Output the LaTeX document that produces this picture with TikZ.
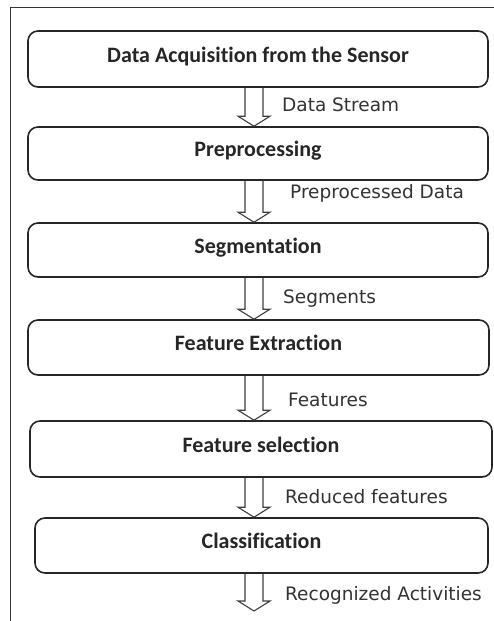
\documentclass[tikz,border=0pt]{standalone}
\usepackage{fontspec}
\setmainfont{DejaVu Sans}
\newfontfamily\titlefont[Ligatures=NoCommon]{Carlito}
\usetikzlibrary{calc}
\tikzset{
  stage/.style={draw=black!85, line width=1.6pt, rounded corners=10pt, inner sep=0pt,
    text height=15pt, text depth=9pt,
    font=\titlefont\bfseries\fontsize{22}{26}\selectfont, text=black!85},
  flowlabel/.style={anchor=west, inner sep=0pt, font=\fontsize{18.5}{22}\selectfont, text=black!80},
  blockarrow/.style={draw=black!75, line width=1.1pt, line join=miter},
  frameline/.style={draw=black!80, line width=1pt}
}
\newcommand\blockarrow[2]{%
  \draw[blockarrow] let \p1=(#1), \p2=(#2) in
    (245pt,\y1) -- (245pt,\y2+10pt) -- (238pt,\y2+10pt) -- (254pt,\y2)
    -- (270pt,\y2+10pt) -- (263pt,\y2+10pt) -- (263pt,\y1);}
\begin{document}
\begin{tikzpicture}[x=1pt,y=-1pt]
\useasboundingbox (0,0) rectangle (494,621);
\fill[white] (0,0) rectangle (494,621);
\coordinate (fa) at (10,621);
\coordinate (fb) at (10,7);
\coordinate (fc) at (494,7);
\draw[frameline] (fa) -- (fb) -- (fc);

\node[stage, minimum width=460pt, minimum height=56pt] (b1) at (258,59) {Data Acquisition from the Sensor};
\node[stage, minimum width=460pt, minimum height=53pt] (b2) at (258,153.5) {Preprocessing};
\node[stage, minimum width=460pt, minimum height=54pt] (b3) at (258,250) {Segmentation};
\node[stage, minimum width=461pt, minimum height=55pt] (b4) at (258.5,347.5) {Feature Extraction};
\node[stage, minimum width=462pt, minimum height=56pt] (b5) at (261,449) {Feature selection};
\node[stage, minimum width=453pt, minimum height=55pt] (b6) at (261.5,545.5) {Classification};
\coordinate (out) at (254,611);

\blockarrow{b1.south}{b2.north}
\blockarrow{b2.south}{b3.north}
\blockarrow{b3.south}{b4.north}
\blockarrow{b4.south}{b5.north}
\blockarrow{b5.south}{b6.north}
\blockarrow{b6.south}{out}

\node[flowlabel] (l1) at (282,105) {Data Stream};
\node[flowlabel] (l2) at (290,193) {Preprocessed Data};
\node[flowlabel] (l3) at (283,299) {Segments};
\node[flowlabel] (l4) at (288,400) {Features};
\node[flowlabel] (l5) at (285,497) {Reduced features};
\node[flowlabel] (l6) at (285,595) {Recognized Activities};
\end{tikzpicture}
\end{document}
